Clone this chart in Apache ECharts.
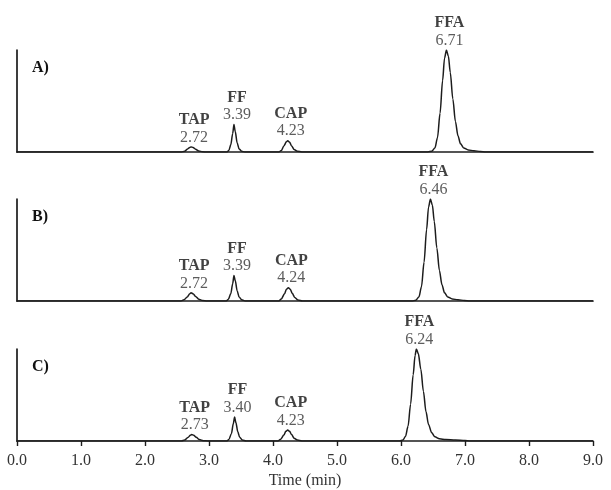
<!DOCTYPE html>
<html>
<head>
<meta charset="utf-8">
<script src="https://cdn.jsdelivr.net/npm/echarts@6/dist/echarts.min.js"></script>
<style>
  html, body { margin: 0; padding: 0; background: #fff; }
  #chart { width: 611px; height: 490px; }
</style>
</head>
<body>
<div id="chart"></div>
<script>
// Chromatogram traces: [time (min), relative response], FFA peak = 100
const traceA = [
  [0, 0], [2.57, 0], [2.62, 0.8], [2.66, 2.8], [2.70, 4.5], [2.72, 5], [2.75, 4.5], [2.79, 2.8], [2.84, 1.0], [2.90, 0.2], [2.96, 0],
  [3.28, 0], [3.31, 1.5], [3.34, 7], [3.37, 18], [3.39, 27], [3.41, 20], [3.44, 9], [3.47, 3], [3.51, 0.8], [3.56, 0],
  [4.09, 0], [4.13, 1.5], [4.17, 6], [4.21, 10], [4.23, 11], [4.26, 9.5], [4.29, 6], [4.33, 2.5], [4.38, 0.8], [4.45, 0],
  [6.42, 0], [6.48, 0.8], [6.53, 4], [6.57, 14], [6.61, 38], [6.65, 70], [6.68, 92], [6.71, 100], [6.74, 94], [6.77, 78],
  [6.81, 52], [6.85, 30], [6.89, 16], [6.93, 8], [6.98, 4], [7.05, 2], [7.14, 1.2], [7.24, 0.5], [7.32, 0],
  [9, 0]
];
const traceB = [
  [0, 0], [2.56, 0], [2.61, 1.2], [2.66, 4], [2.70, 7], [2.72, 8], [2.75, 7.2], [2.79, 4.5], [2.84, 1.8], [2.90, 0.4], [2.97, 0],
  [3.27, 0], [3.30, 1.5], [3.34, 7], [3.37, 17], [3.39, 25], [3.41, 20], [3.44, 10], [3.47, 4], [3.51, 1.2], [3.57, 0],
  [4.09, 0], [4.13, 2], [4.18, 7], [4.21, 11.5], [4.24, 13], [4.27, 11.5], [4.30, 7.5], [4.34, 3.5], [4.39, 1], [4.46, 0],
  [6.18, 0], [6.23, 0.8], [6.28, 4], [6.32, 14], [6.36, 38], [6.40, 70], [6.43, 92], [6.46, 100], [6.49, 94], [6.52, 78],
  [6.56, 52], [6.60, 30], [6.64, 16], [6.68, 8], [6.73, 4], [6.80, 2], [6.89, 1.2], [6.99, 0.5], [7.07, 0],
  [9, 0]
];
const traceC = [
  [0, 0], [2.57, 0], [2.62, 1], [2.67, 3.8], [2.71, 6.3], [2.73, 7], [2.76, 6.3], [2.80, 4], [2.85, 1.5], [2.91, 0.3], [2.98, 0],
  [3.28, 0], [3.31, 1.5], [3.35, 8], [3.38, 19], [3.40, 26], [3.42, 20], [3.45, 10], [3.48, 4], [3.52, 1], [3.58, 0],
  [4.08, 0], [4.12, 2], [4.17, 6.5], [4.20, 10.5], [4.23, 12], [4.26, 10.5], [4.29, 7], [4.33, 3], [4.38, 1], [4.45, 0],
  [5.98, 0], [6.03, 1], [6.07, 5], [6.11, 16], [6.15, 40], [6.19, 72], [6.22, 93], [6.24, 100], [6.27, 95], [6.31, 78],
  [6.35, 54], [6.39, 32], [6.43, 18], [6.48, 9], [6.53, 4.5], [6.60, 2.5], [6.70, 1.5], [6.85, 1], [7.00, 0.5], [7.08, 0],
  [9, 0]
];

// Peak apexes: [compound, retention time, height]
const peaksA = [['TAP', 2.72, 5], ['FF', 3.39, 27], ['CAP', 4.23, 11], ['FFA', 6.71, 100]];
const peaksB = [['TAP', 2.72, 8], ['FF', 3.39, 25], ['CAP', 4.24, 13], ['FFA', 6.46, 100]];
const peaksC = [['TAP', 2.73, 7], ['FF', 3.40, 26], ['CAP', 4.23, 12], ['FFA', 6.24, 100]];

const panelNames = ['A)', 'B)', 'C)'];
const tickLabels = ['0.0', '1.0', '2.0', '3.0', '4.0', '5.0', '6.0', '7.0', '8.0', '9.0'];
const axisTitle = 'Time (min)';

const traces = [traceA, traceB, traceC];
const peaks = [peaksA, peaksB, peaksC];

const FONT = '"Liberation Serif", "DejaVu Serif", serif';
const INK = '#1c1c1c';
const gridTops = [50, 199, 349];
const gridHeight = 102;

const grids = [], xAxes = [], yAxes = [], series = [], graphics = [];

gridTops.forEach(function (top, i) {
  const last = i === gridTops.length - 1;
  grids.push({ left: 17, right: 18, top: top, height: gridHeight, containLabel: false });
  xAxes.push({
    type: 'value', gridIndex: i, min: 0, max: 9, interval: 1,
    axisLine: { show: true, onZero: false, lineStyle: { color: INK, width: 1.7 } },
    axisTick: { show: last, length: 5, lineStyle: { color: INK, width: 1.4 } },
    axisLabel: {
      show: last, margin: 12, fontFamily: FONT, fontSize: 16, color: '#333',
      showMinLabel: true, showMaxLabel: true,
      formatter: function (v) { return tickLabels[Math.round(v)]; }
    },
    splitLine: { show: false },
    name: last ? axisTitle : '',
    nameLocation: 'middle', nameGap: 32,
    nameTextStyle: { fontFamily: FONT, fontSize: 16, color: '#333' }
  });
  yAxes.push({
    type: 'value', gridIndex: i, min: 0, max: 100,
    axisLine: { show: true, lineStyle: { color: INK, width: 1.7 } },
    axisTick: { show: false }, axisLabel: { show: false }, splitLine: { show: false }
  });
  series.push({
    type: 'line', xAxisIndex: i, yAxisIndex: i,
    data: traces[i], showSymbol: false, smooth: 0.3, smoothMonotone: 'x',
    lineStyle: { color: INK, width: 1.5 }, silent: true, z: 3
  });
  series.push({
    type: 'scatter', xAxisIndex: i, yAxisIndex: i, symbolSize: 0, silent: true, z: 4,
    data: peaks[i].map(function (p) { return { name: p[0], value: [p[1], p[2]] }; }),
    label: {
      show: true, position: 'top', distance: 1, offset: [3, 0],
      formatter: function (d) { return '{n|' + d.name + '}\n{v|' + d.value[0].toFixed(2) + '}'; },
      rich: {
        n: { fontFamily: FONT, fontSize: 16, fontWeight: 'bold', color: '#111', lineHeight: 18, align: 'center' },
        v: { fontFamily: FONT, fontSize: 16, color: '#333', lineHeight: 17, align: 'center' }
      }
    }
  });
  graphics.push({
    type: 'text', left: 32, top: top + 10,
    style: { text: panelNames[i], font: 'bold 16px ' + FONT, fill: '#111' }
  });
});

const chart = echarts.init(document.getElementById('chart'), null, { renderer: 'canvas' });
chart.setOption({
  animation: false,
  backgroundColor: '#fff',
  grid: grids, xAxis: xAxes, yAxis: yAxes, series: series, graphic: graphics
});
</script>
</body>
</html>
